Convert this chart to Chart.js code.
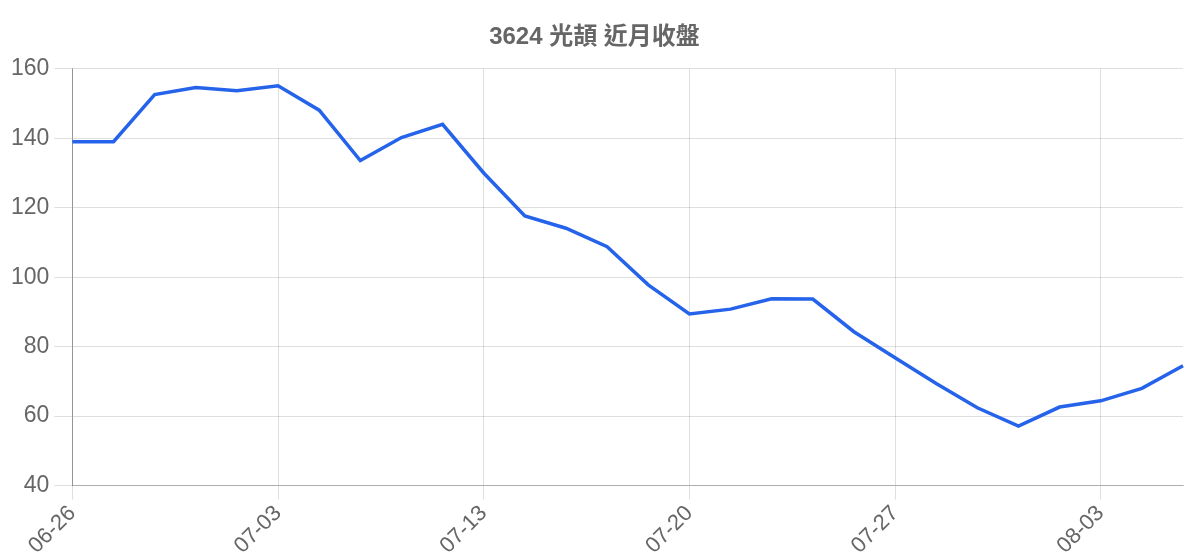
<!DOCTYPE html>
<html>
<head>
<meta charset="utf-8">
<script src="https://cdn.jsdelivr.net/npm/chart.js@4"></script>
<style>
html,body{margin:0;padding:0;background:#fff;}
#wrap{width:1200px;height:560px;}
</style>
</head>
<body>
<div id="wrap"><canvas id="c"></canvas></div>
<script>
const titleText = '3624 光頡 近月收盤';
const dates = ['06-26','06-27','06-28','06-29','06-30','07-03','07-04','07-05','07-06','07-07',
  '07-13','07-14','07-17','07-18','07-19','07-20','07-21','07-24','07-25','07-26',
  '07-27','07-28','07-31','08-01','08-02','08-03','08-04','08-07'];
const closes = [139.0,139.0,152.6,154.6,153.7,155.1,148.1,133.6,140.2,144.0,
  130.0,117.6,114.1,108.8,97.8,89.4,90.8,93.8,93.7,84.3,
  76.8,69.4,62.4,57.1,62.6,64.4,68.0,74.5];
const yMin = 40, yMax = 160, yStep = 20;
const labelEvery = 5;

new Chart(document.getElementById('c'), {
  type: 'line',
  data: {
    labels: dates,
    datasets: [{
      label: titleText,
      data: closes,
      borderColor: '#2563eb',
      backgroundColor: '#2563eb',
      borderWidth: 3.5,
      pointRadius: 0,
      tension: 0,
      fill: false
    }]
  },
  options: {
    responsive: true,
    maintainAspectRatio: false,
    animation: false,
    layout: { padding: { left: 6, right: 17, top: 0, bottom: 0 } },
    plugins: {
      legend: { display: false },
      title: {
        display: true,
        text: titleText,
        color: '#666',
        font: { family: '"Liberation Sans","Noto Sans CJK TC",sans-serif', size: 24, weight: 'bold' },
        padding: { top: 23, bottom: 17 }
      }
    },
    scales: {
      x: {
        grid: { color: 'rgba(0,0,0,0.13)', tickLength: 14 },
        border: { color: 'rgba(0,0,0,0.22)' },
        ticks: {
          color: '#666',
          font: { family: '"Liberation Sans",sans-serif', size: 22 },
          maxRotation: 45, minRotation: 45,
          autoSkip: false,
          padding: 1,
          callback: function(v, i) { return i % labelEvery === 0 ? dates[i] : null; }
        }
      },
      y: {
        min: yMin, max: yMax,
        grid: { color: 'rgba(0,0,0,0.13)', tickLength: 18 },
        border: { color: 'rgba(0,0,0,0.33)' },
        ticks: {
          stepSize: yStep,
          color: '#666',
          padding: 5,
          font: { family: '"Liberation Sans",sans-serif', size: 23 }
        }
      }
    }
  }
});
</script>
</body>
</html>
